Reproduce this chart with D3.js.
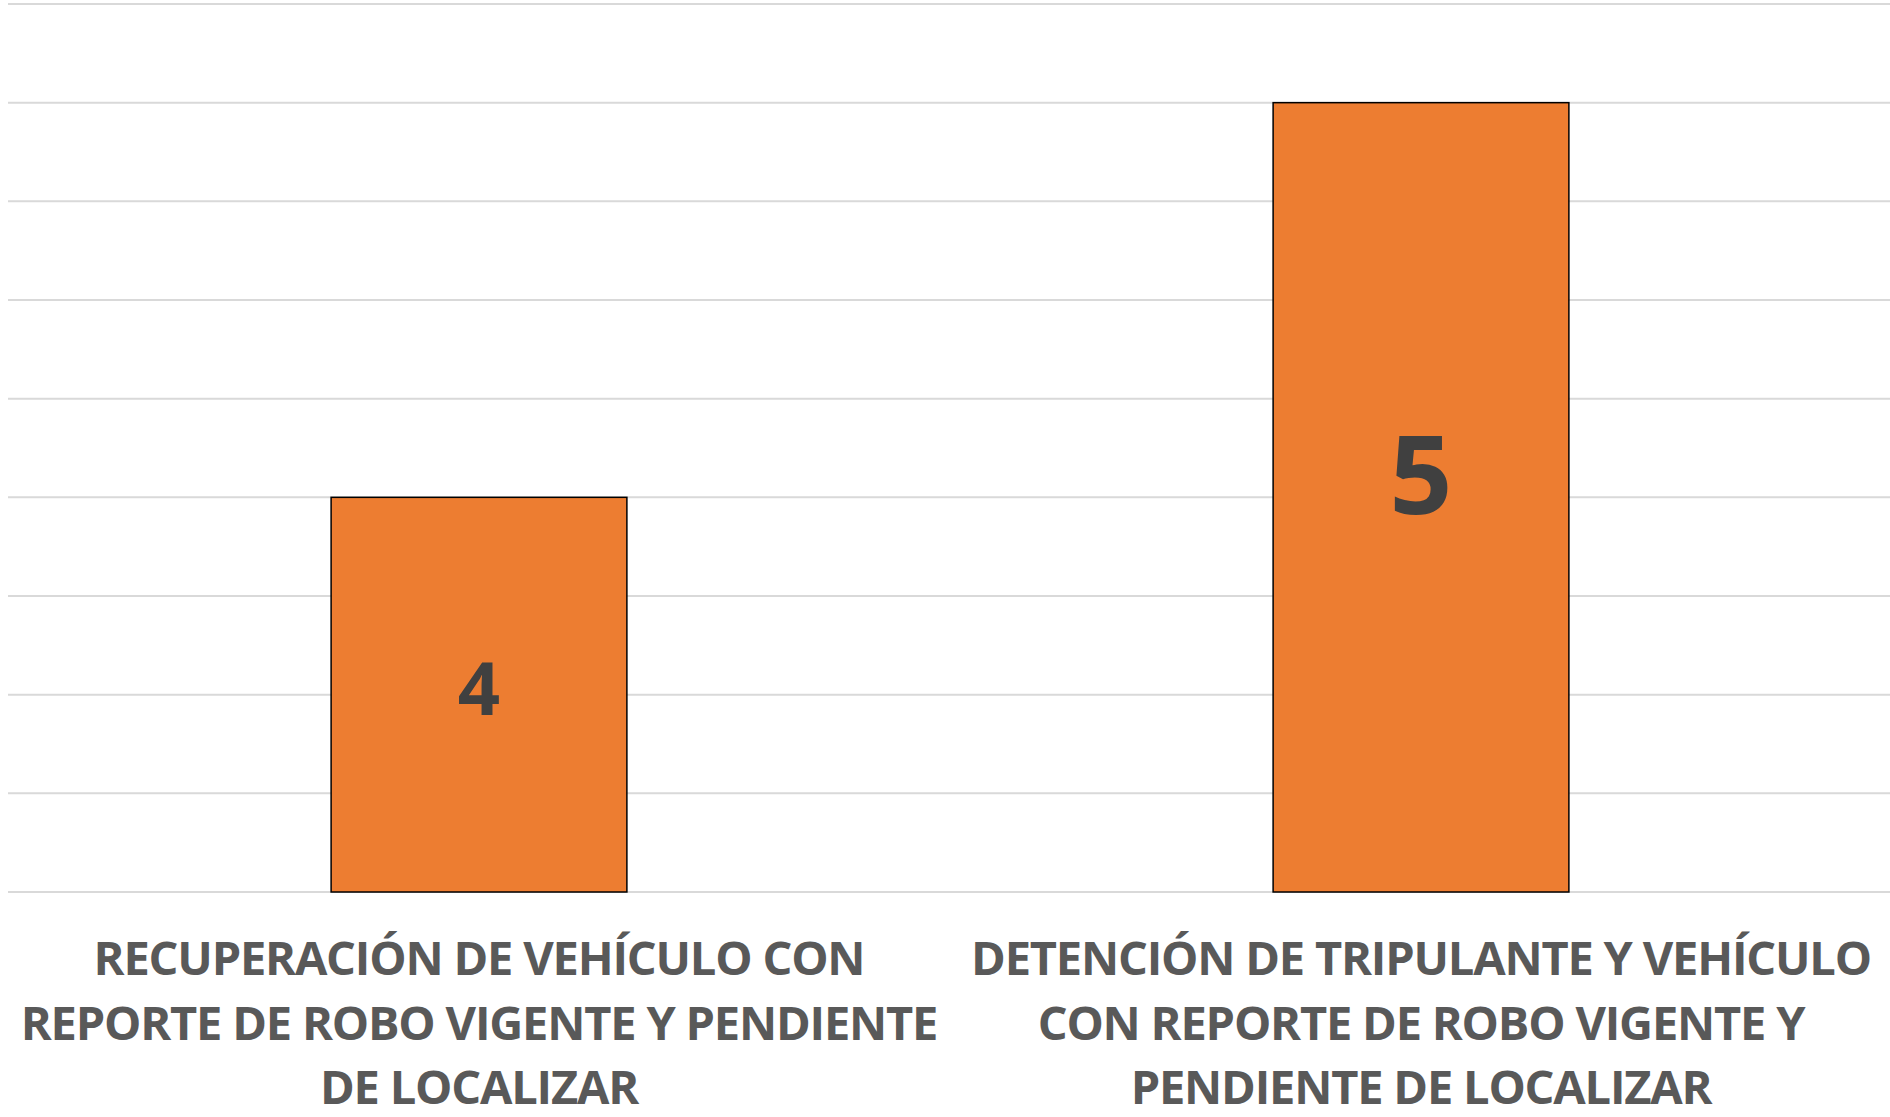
<!DOCTYPE html>
<meta charset="utf-8">
<style>
body { margin: 0; background: #fff; }
.grid line { stroke: #d9d9d9; stroke-width: 2px; }
.bar { fill: #ed7d31; stroke: #000; stroke-width: 1.5px; }
.cat { font-family: "Open Sans", sans-serif; font-weight: 700; fill: #595959; letter-spacing: -1.2px; }
.val { font-family: "Open Sans", sans-serif; font-weight: 700; fill: #404040; }
</style>
<svg width="1890" height="1117"></svg>
<script src="https://d3js.org/d3.v7.min.js"></script>
<script>

// data
var categories = ["RECUPERACIÓN DE VEHÍCULO CON REPORTE DE ROBO VIGENTE Y PENDIENTE DE LOCALIZAR",
                  "DETENCIÓN DE TRIPULANTE Y VEHÍCULO CON REPORTE DE ROBO VIGENTE Y PENDIENTE DE LOCALIZAR"];
var categoryLines = [
  ["RECUPERACIÓN DE VEHÍCULO CON", "REPORTE DE ROBO VIGENTE Y PENDIENTE", "DE LOCALIZAR"],
  ["DETENCIÓN DE TRIPULANTE Y VEHÍCULO", "CON REPORTE DE ROBO VIGENTE Y", "PENDIENTE DE LOCALIZAR"]
];
var values = [4, 5];
var yTicks = [3, 3.25, 3.5, 3.75, 4, 4.25, 4.5, 4.75, 5, 5.25];

var svg = d3.select("svg"),
    margin = {top: 4, right: -2, bottom: 225, left: 8},
    width = +svg.attr("width") - margin.left - margin.right,
    height = +svg.attr("height") - margin.top - margin.bottom;

var g = svg.append("g").attr("transform", "translate(" + margin.left + "," + margin.top + ")");

var x = d3.scaleBand().domain(categories).range([0, width]).padding(0);
var y = d3.scaleLinear().domain([3, 5.25]).range([height, 0]);

var barW = x.bandwidth() * 0.314;

// gridlines
g.append("g").attr("class", "grid")
  .selectAll("line").data(yTicks).enter().append("line")
    .attr("x1", 0).attr("x2", width)
    .attr("y1", function(d) { return y(d); })
    .attr("y2", function(d) { return y(d); });

// bars
g.selectAll(".bar").data(values).enter().append("rect")
    .attr("class", "bar")
    .attr("x", function(d, i) { return x(categories[i]) + x.bandwidth() / 2 - barW / 2; })
    .attr("y", function(d) { return y(d); })
    .attr("width", barW)
    .attr("height", function(d) { return y(3) - y(d); });

// value labels (the two labels have different sizes in the original)
var valSize = [74, 110], valShift = [-6, -23];
g.selectAll(".val").data(values).enter().append("text")
    .attr("class", "val")
    .attr("x", function(d, i) { return x(categories[i]) + x.bandwidth() / 2; })
    .attr("y", function(d, i) { return (y(d) + y(3)) / 2 + valShift[i]; })
    .attr("dy", "0.36em")
    .attr("text-anchor", "middle")
    .style("font-size", function(d, i) { return valSize[i] + "px"; })
    .text(function(d) { return d; });

// category labels
var cat = g.selectAll(".catg").data(categoryLines).enter().append("g")
    .attr("transform", function(d, i) { return "translate(" + (x(categories[i]) + x.bandwidth() / 2) + "," + (y(3) + 83) + ")"; });

cat.selectAll("text").data(function(d) { return d; }).enter().append("text")
    .attr("class", "cat")
    .attr("y", function(d, j) { return j * 64.5; })
    .attr("text-anchor", "middle")
    .style("font-size", "47px")
    .text(function(d) { return d; });
</script>
